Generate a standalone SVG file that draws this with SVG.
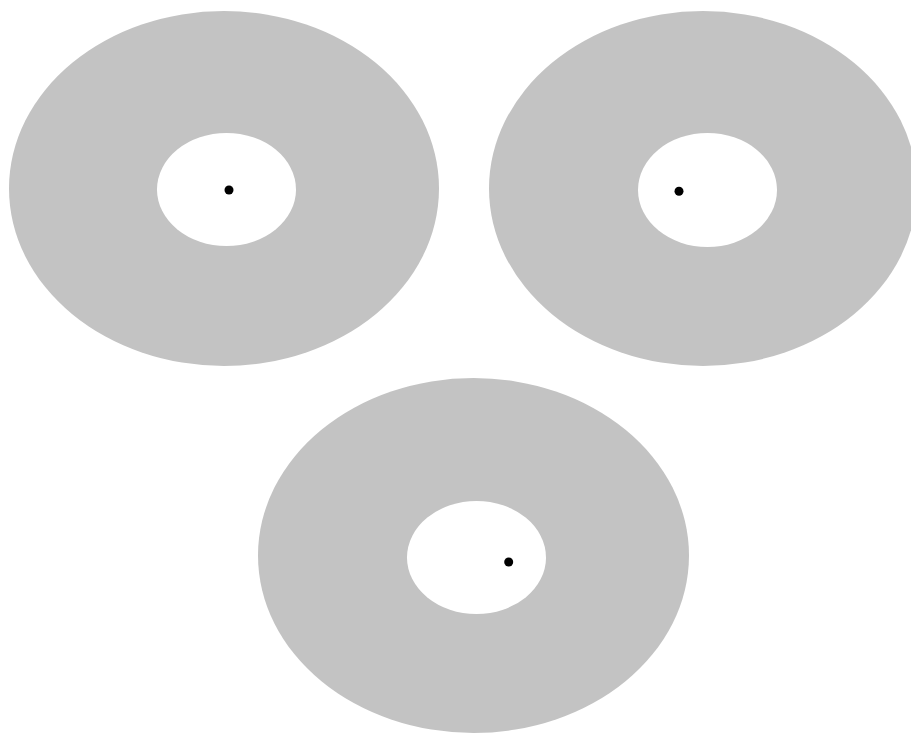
<svg xmlns="http://www.w3.org/2000/svg" width="911" height="733" viewBox="0 0 911 733">
<style>
.outer{fill:#c3c3c3}
.inner{fill:#ffffff}
.dot{fill:#000000}
</style>
<rect width="911" height="733" fill="#ffffff"/>
<g id="disc1">
<ellipse class="outer" cx="224" cy="188.5" rx="215" ry="177.5"/>
<ellipse class="inner" cx="226.5" cy="189.5" rx="69.5" ry="56.5"/>
<circle class="dot" cx="229" cy="190" r="4.5"/>
</g>
<g id="disc2">
<ellipse class="outer" cx="703" cy="188.5" rx="214" ry="177.5"/>
<ellipse class="inner" cx="707.5" cy="190" rx="69.5" ry="57"/>
<circle class="dot" cx="679" cy="191.3" r="4.5"/>
</g>
<g id="disc3">
<ellipse class="outer" cx="473.5" cy="555.5" rx="215.5" ry="177.5"/>
<ellipse class="inner" cx="476.5" cy="557.5" rx="69.5" ry="56.5"/>
<circle class="dot" cx="508.7" cy="562" r="4.5"/>
</g>
<g id="connectors"/>
</svg>
